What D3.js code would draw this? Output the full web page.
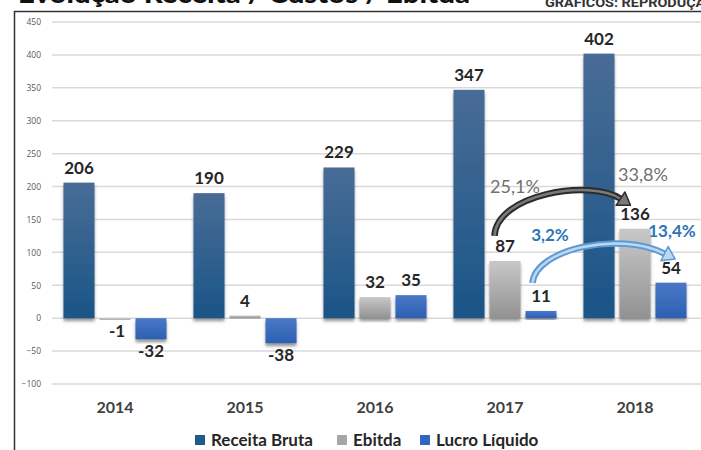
<!DOCTYPE html>
<html lang="pt">
<head>
<meta charset="utf-8">
<title>Receita / Ebitda / Lucro</title>
<script src="https://cdn.jsdelivr.net/npm/d3@7"></script>
<style>
body{ margin:0; background:#fff; }
svg{ display:block; }
</style>
</head>
<body>
<script>
// chart data
let years = ["2014", "2015", "2016", "2017", "2018"];
let series = ["Receita Bruta", "Ebitda", "Lucro Líquido"];
let receita = [206, 190, 229, 347, 402];
let ebitda = [-1, 4, 32, 87, 136];
let lucro = [-32, -38, 35, 11, 54];
let yTicks = [-100, -50, 0, 50, 100, 150, 200, 250, 300, 350, 400, 450];
// margins shown for 2017 -> 2018
let marginYears = ["2017", "2018"];
let ebitdaMargin = ["25,1%", "33,8%"];
let lucroMargin = ["3,2%", "13,4%"];

let w = 701, h = 450;
let svg = d3.select("body").append("svg").attr("width", w).attr("height", h);
let defs = svg.append("defs");

// gradients for the bars
function grad(id, top, bottom){
    let g = defs.append("linearGradient").attr("id", id)
        .attr("x1", 0).attr("y1", 0).attr("x2", 0).attr("y2", 1);
    g.append("stop").attr("offset", "0%").attr("stop-color", top);
    g.append("stop").attr("offset", "100%").attr("stop-color", bottom);
}
grad("gRec", "#486c96", "#1a5587");
grad("gEbi", "#c8c8c8", "#929292");
grad("gLuc", "#4a78c6", "#2c60b2");

let sh = defs.append("filter").attr("id", "shadow")
    .attr("x", "-20%").attr("y", "-20%").attr("width", "140%").attr("height", "140%");
sh.append("feDropShadow").attr("dx", 0).attr("dy", 3).attr("stdDeviation", 1.5)
    .attr("flood-color", "#444").attr("flood-opacity", 0.55);

// title, cut at the top like the source
svg.append("text").attr("x", 18).attr("y", 3)
    .attr("font-family", "Lato, 'DejaVu Sans', sans-serif").attr("font-weight", 900)
    .attr("font-size", 26).attr("fill", "#111")
    .attr("textLength", 452).attr("lengthAdjust", "spacingAndGlyphs")
    .text("Evolução Receita / Custos / Ebitda");
svg.append("text").attr("x", 545).attr("y", 7)
    .attr("font-family", "'Liberation Sans Narrow', 'Roboto', sans-serif").attr("font-weight", 700)
    .attr("font-size", 12).attr("fill", "#333")
    .attr("textLength", 170).attr("lengthAdjust", "spacingAndGlyphs")
    .text("GRÁFICOS: REPRODUÇÃO");

// frame lines
svg.append("line").attr("x1", 14).attr("x2", w).attr("y1", 11.5).attr("y2", 11.5)
    .attr("stroke", "#333").attr("stroke-width", 1.5);
svg.append("line").attr("x1", 14.5).attr("x2", 14.5).attr("y1", 11).attr("y2", h)
    .attr("stroke", "#333").attr("stroke-width", 1.5);

// scales
let x = d3.scaleBand().domain(years).range([50, 700]);
let xs = d3.scaleBand().domain(series).range([13.5, 116.5]).paddingInner(0.139);
let y = d3.scaleLinear().domain([-100, 450]).range([384, 22]);

// grid + y labels
let yAxis = d3.axisLeft(y).tickValues(yTicks).tickSize(0).tickPadding(0);
let ga = svg.append("g").attr("transform", "translate(41,0)").call(yAxis);
ga.select(".domain").remove();
ga.selectAll("text").attr("font-family", "'Open Sans', sans-serif")
    .attr("font-size", 8.5).attr("fill", "#595959");

svg.append("g").selectAll("line").data(yTicks).enter().append("line")
    .attr("x1", 52).attr("x2", w)
    .attr("y1", d => y(d)).attr("y2", d => y(d))
    .attr("stroke", "#d9d9d9").attr("stroke-width", 1.5);

// build the rows
let rows = [];
years.forEach(function(yr, i){
    rows.push({year: yr, s: series[0], v: receita[i], fill: "url(#gRec)"});
    rows.push({year: yr, s: series[1], v: ebitda[i], fill: "url(#gEbi)"});
    rows.push({year: yr, s: series[2], v: lucro[i], fill: "url(#gLuc)"});
});
function bx(d){ return x(d.year) + xs(d.s); }

svg.append("g").selectAll("rect").data(rows).enter().append("rect")
    .attr("x", d => bx(d))
    .attr("y", d => Math.min(y(d.v), y(0)))
    .attr("width", xs.bandwidth())
    .attr("height", d => Math.max(Math.abs(y(d.v) - y(0)), 1.5))
    .attr("fill", d => d.fill)
    .attr("filter", "url(#shadow)");

// value labels
svg.append("g").selectAll("text").data(rows).enter().append("text")
    .attr("x", d => bx(d) + xs.bandwidth() / 2 + (d.v < 0 && d.s == "Ebitda" ? 2 : 0))
    .attr("y", d => d.v >= 0 ? y(d.v) - 9 : y(d.v) + 18)
    .attr("text-anchor", "middle")
    .attr("font-family", "Lato, 'Open Sans', sans-serif").attr("font-weight", 700)
    .attr("font-size", 17).attr("fill", "#262626")
    .text(d => d.v);

// year labels
svg.append("g").selectAll("text").data(years).enter().append("text")
    .attr("x", d => x(d) + x.bandwidth() / 2)
    .attr("y", 413)
    .attr("text-anchor", "middle")
    .attr("font-family", "Lato, 'Open Sans', sans-serif").attr("font-weight", 700)
    .attr("font-size", 16).attr("fill", "#404040")
    .text(d => d);

// margin arrows 2017 -> 2018 (cubic curve, head follows last tangent)
function drawArrow(p0, p1, p2, p3, outer, inner){
    let p = "M" + p0 + " C" + p1 + " " + p2 + " " + p3;
    svg.append("path").attr("d", p).attr("fill", "none")
        .attr("stroke", outer).attr("stroke-width", 6.5);
    svg.append("path").attr("d", p).attr("fill", "none")
        .attr("stroke", inner).attr("stroke-width", 2.5);
    let ang = Math.atan2(p3[1] - p2[1], p3[0] - p2[0]);
    let L = 12, W = 8;
    let tip = [p3[0] + Math.cos(ang) * L, p3[1] + Math.sin(ang) * L];
    let nx = -Math.sin(ang) * W, ny = Math.cos(ang) * W;
    svg.append("path")
        .attr("d", "M" + (p3[0] + nx) + "," + (p3[1] + ny) + " L" + tip[0] + "," + tip[1] +
            " L" + (p3[0] - nx) + "," + (p3[1] - ny) + " Z")
        .attr("fill", inner).attr("stroke", outer).attr("stroke-width", 1.5)
        .attr("stroke-linejoin", "round");
}
let e0 = {year: marginYears[0], s: series[1]}, e1 = {year: marginYears[1], s: series[1]};
let l0 = {year: marginYears[0], s: series[2]}, l1 = {year: marginYears[1], s: series[2]};
let bw = xs.bandwidth();

// ebitda margin arrow
let ea = bx(e0) + 5, eb = y(ebitda[3]) - 25;
let ec = bx(e1) + 1, ed = y(ebitda[4]) - 30;
drawArrow([ea, eb], [ea + 2, eb - 42], [ec - 30, ed - 20], [ec, ed], "#2b2b2b", "#7a7a7a");
// lucro margin arrow
let la = bx(l0) + 7, lb = y(lucro[3]) - 28;
let lc = bx(l1) + 9, ld = y(lucro[4]) - 29;
drawArrow([la, lb], [la + 3, lb - 34], [lc - 45, ld - 23], [lc, ld], "#5b9bd5", "#bdd7ee");

// margin labels
let pct = svg.append("g").attr("font-family", "Lato, 'Open Sans', sans-serif").attr("text-anchor", "middle");
pct.append("text").attr("x", bx(e0) + bw / 2 + 10).attr("y", y(ebitda[3]) - 68)
    .attr("font-size", 18).attr("fill", "#707070").text(ebitdaMargin[0]);
pct.append("text").attr("x", bx(e1) + bw / 2 + 8).attr("y", y(ebitda[4]) - 48)
    .attr("font-size", 18).attr("fill", "#707070").text(ebitdaMargin[1]);
pct.append("text").attr("x", bx(l0) + bw / 2 + 9).attr("y", y(lucro[3]) - 70)
    .attr("font-size", 17).attr("font-weight", 700).attr("fill", "#2e75b6").text(lucroMargin[0]);
pct.append("text").attr("x", bx(l1) + bw / 2 + 1).attr("y", y(lucro[4]) - 46)
    .attr("font-size", 17).attr("font-weight", 700).attr("fill", "#2e75b6").text(lucroMargin[1]);

// legend
let legColors = ["#1f5a8c", "#a6a6a6", "#3366bf"];
let legX = [195, 337, 420];
let leg = svg.append("g").selectAll("g").data(series).enter().append("g")
    .attr("transform", (d, i) => "translate(" + legX[i] + ",435)");
leg.append("rect").attr("width", 10).attr("height", 10).attr("fill", (d, i) => legColors[i]);
leg.append("text").attr("x", 16).attr("y", 10.5)
    .attr("font-family", "Lato, 'Open Sans', sans-serif").attr("font-weight", 700)
    .attr("font-size", 17).attr("fill", "#262626")
    .text(d => d);
</script>
</body>
</html>
